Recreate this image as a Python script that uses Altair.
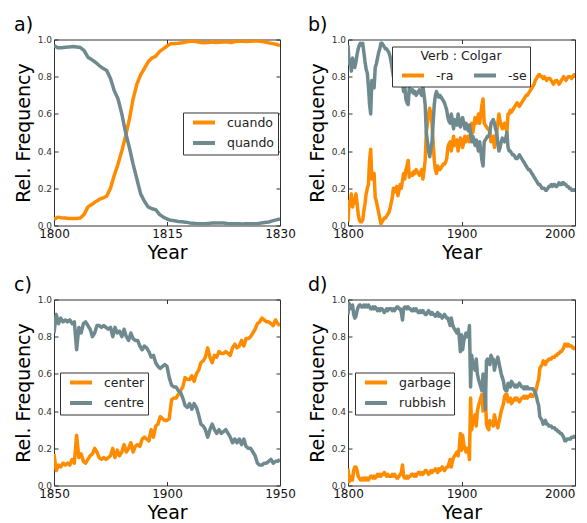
import altair as alt
import pandas as pd

FONT = "DejaVu Sans"
ORANGE = "#FF8C00"
GRAY = "#6F8A8F"

# ---------------- panel a ----------------
years_a = [1800 + 0.5 * i for i in range(61)]
cuando = [0.032, 0.045, 0.042, 0.04, 0.038, 0.037, 0.038, 0.04, 0.06, 0.1,
          0.113, 0.127, 0.14, 0.148, 0.158, 0.2, 0.27, 0.33, 0.4, 0.48,
          0.57, 0.68, 0.76, 0.81, 0.845, 0.88, 0.9, 0.91, 0.935, 0.95,
          0.965, 0.977, 0.978, 0.98, 0.983, 0.987, 0.99, 0.99, 0.988, 0.984,
          0.982, 0.984, 0.986, 0.984, 0.985, 0.987, 0.986, 0.984, 0.989, 0.99,
          0.99, 0.989, 0.99, 0.992, 0.992, 0.99, 0.986, 0.982, 0.978, 0.974,
          0.968]
quando = [0.968, 0.955, 0.956, 0.958, 0.96, 0.962, 0.96, 0.957, 0.94, 0.905,
          0.892, 0.878, 0.86, 0.845, 0.833, 0.79, 0.725, 0.68, 0.6, 0.5,
          0.42, 0.33, 0.25, 0.17, 0.13, 0.1, 0.09, 0.085, 0.06, 0.045,
          0.035, 0.028, 0.025, 0.022, 0.02, 0.018, 0.014, 0.012, 0.01, 0.009,
          0.009, 0.011, 0.013, 0.014, 0.014, 0.013, 0.011, 0.01, 0.009, 0.009,
          0.008, 0.009, 0.009, 0.009, 0.01, 0.013, 0.016, 0.019, 0.025, 0.03,
          0.036]

# ---------------- panel b ----------------
years_b = list(range(1800, 2001))
ra = [0.02, 0.13, 0.11, 0.17, 0.1, 0.14, 0.12, 0.17, 0.12, 0.06,
      0.03, 0.02, 0.02, 0.03, 0.08, 0.12, 0.17, 0.2, 0.22, 0.35,
      0.41, 0.25, 0.27, 0.28, 0.15, 0.13, 0.1, 0.07, 0.04, 0.01,
      0.02, 0.03, 0.04, 0.04, 0.05, 0.06, 0.07, 0.09, 0.12, 0.15,
      0.2, 0.18, 0.2, 0.21, 0.16, 0.19, 0.22, 0.2, 0.24, 0.28,
      0.25, 0.3, 0.32, 0.35, 0.26, 0.27, 0.28, 0.27, 0.29, 0.28,
      0.3, 0.29, 0.28, 0.27, 0.29, 0.3, 0.25, 0.3, 0.35, 0.5,
      0.55, 0.6, 0.63, 0.6, 0.55, 0.45, 0.35, 0.3, 0.28, 0.32,
      0.31, 0.3, 0.31, 0.32, 0.33, 0.33, 0.34, 0.36, 0.42, 0.44,
      0.45, 0.4, 0.44, 0.48, 0.43, 0.45, 0.46, 0.4, 0.44, 0.47,
      0.46, 0.42, 0.45, 0.48, 0.45, 0.47, 0.48, 0.45, 0.5, 0.55,
      0.5, 0.54, 0.58, 0.55, 0.57, 0.6, 0.55, 0.6, 0.65, 0.68,
      0.55, 0.54, 0.53, 0.52, 0.52, 0.5, 0.45, 0.46, 0.48, 0.42,
      0.46, 0.5, 0.55, 0.6, 0.56, 0.54, 0.52, 0.54, 0.55, 0.53,
      0.5, 0.6, 0.6, 0.62, 0.61, 0.62, 0.63, 0.64, 0.65, 0.66,
      0.65, 0.64, 0.65, 0.66, 0.67, 0.68, 0.69, 0.7, 0.7, 0.71,
      0.72, 0.73, 0.74, 0.75, 0.76, 0.78, 0.79, 0.8, 0.81, 0.81,
      0.8, 0.8, 0.79, 0.8, 0.79, 0.78, 0.79, 0.79, 0.79, 0.78,
      0.77, 0.76, 0.77, 0.78, 0.78, 0.77, 0.76, 0.77, 0.78, 0.79,
      0.8, 0.79, 0.78, 0.79, 0.8, 0.8, 0.8, 0.79, 0.8, 0.81,
      0.81]
se = [0.97, 0.87, 0.89, 0.83, 0.9, 0.86, 0.85, 0.88, 0.92, 0.95,
      0.97, 0.98, 0.97, 0.98, 0.93, 0.88, 0.84, 0.82, 0.75, 0.65,
      0.6, 0.78, 0.76, 0.74, 0.85, 0.87, 0.9, 0.93, 0.95, 0.98,
      0.98, 0.97, 0.96, 0.95, 0.95, 0.94, 0.93, 0.91, 0.88, 0.84,
      0.8, 0.82, 0.79, 0.8, 0.84, 0.8, 0.78, 0.8, 0.76, 0.72,
      0.75, 0.68, 0.66, 0.65, 0.74, 0.73, 0.72, 0.73, 0.71, 0.72,
      0.7, 0.71, 0.72, 0.73, 0.71, 0.7, 0.75, 0.7, 0.65, 0.5,
      0.45, 0.4, 0.37, 0.41, 0.45, 0.55, 0.65, 0.7, 0.72, 0.7,
      0.69, 0.7, 0.69, 0.68, 0.67, 0.66, 0.64, 0.62, 0.58, 0.56,
      0.55, 0.6, 0.56, 0.52, 0.57, 0.55, 0.54, 0.6, 0.56, 0.53,
      0.56, 0.58, 0.55, 0.52, 0.55, 0.53, 0.51, 0.54, 0.5, 0.45,
      0.48, 0.46, 0.43, 0.46, 0.43, 0.4, 0.45, 0.4, 0.35, 0.32,
      0.45, 0.46, 0.47, 0.48, 0.48, 0.5, 0.55, 0.56, 0.57, 0.55,
      0.52, 0.5, 0.44, 0.4, 0.42, 0.45, 0.47, 0.46, 0.45, 0.47,
      0.5, 0.42, 0.4, 0.4, 0.39, 0.38, 0.38, 0.37, 0.36, 0.36,
      0.37, 0.38, 0.37, 0.36, 0.35, 0.34, 0.33, 0.32, 0.31, 0.3,
      0.3, 0.29, 0.28, 0.27, 0.26, 0.25, 0.24, 0.23, 0.22, 0.22,
      0.21, 0.2, 0.2, 0.2, 0.19, 0.19, 0.2, 0.21, 0.21, 0.22,
      0.21, 0.22, 0.22, 0.21, 0.21, 0.22, 0.23, 0.22, 0.22, 0.23,
      0.23, 0.22, 0.22, 0.21, 0.21, 0.2, 0.2, 0.19, 0.19, 0.19,
      0.19]

# ---------------- panel c ----------------
years_c = list(range(1850, 1951))
center = [0.17, 0.08, 0.11, 0.1, 0.12, 0.11, 0.12, 0.11, 0.14, 0.12,
          0.27, 0.15, 0.17, 0.13, 0.12, 0.14, 0.16, 0.17, 0.2, 0.18,
          0.15, 0.14, 0.15, 0.14, 0.15, 0.16, 0.2, 0.15, 0.19, 0.16,
          0.18, 0.22, 0.18, 0.2, 0.23, 0.18, 0.21, 0.22, 0.21, 0.25,
          0.26, 0.25, 0.24, 0.3, 0.26, 0.32, 0.33, 0.37, 0.36, 0.35,
          0.35, 0.36, 0.46, 0.47, 0.47, 0.49, 0.51, 0.53, 0.58, 0.57,
          0.57, 0.59, 0.56, 0.6, 0.62, 0.66, 0.67, 0.69, 0.74, 0.69,
          0.66, 0.7, 0.69, 0.72, 0.71, 0.71, 0.72, 0.71, 0.7, 0.74,
          0.76, 0.74, 0.75, 0.78, 0.75, 0.79, 0.79, 0.8, 0.82, 0.84,
          0.87, 0.88, 0.9, 0.89, 0.88, 0.88, 0.87, 0.86, 0.89, 0.87,
          0.86]
centre = [0.82, 0.92, 0.87, 0.9, 0.88, 0.89, 0.88, 0.89, 0.87, 0.88,
          0.73, 0.85, 0.82, 0.87, 0.88, 0.86, 0.84, 0.8, 0.82, 0.86,
          0.86, 0.85, 0.86, 0.85, 0.84, 0.85, 0.8, 0.85, 0.82, 0.83,
          0.8, 0.84, 0.8, 0.78, 0.82, 0.79, 0.78, 0.78, 0.75, 0.73,
          0.75, 0.74, 0.72, 0.69, 0.7, 0.66, 0.64, 0.63, 0.64, 0.65,
          0.64, 0.58, 0.54, 0.53, 0.53, 0.51, 0.5, 0.47, 0.43, 0.42,
          0.44, 0.41, 0.44, 0.42, 0.38, 0.33, 0.32, 0.3, 0.26, 0.3,
          0.33, 0.3, 0.28, 0.3, 0.28, 0.29, 0.3, 0.28, 0.26, 0.23,
          0.25, 0.23, 0.25, 0.22, 0.25, 0.21, 0.2, 0.2, 0.18, 0.16,
          0.12, 0.11, 0.11, 0.12, 0.12, 0.13, 0.14, 0.12, 0.13, 0.13,
          0.14]

# ---------------- panel d ----------------
years_d = list(range(1800, 2001))
garbage = [0.09, 0.02, 0.05, 0.03, 0.03, 0.08, 0.1, 0.1, 0.08, 0.05,
           0.04, 0.03, 0.03, 0.04, 0.03, 0.04, 0.03, 0.04, 0.03, 0.04,
           0.05, 0.05, 0.04, 0.05, 0.04, 0.05, 0.06, 0.05, 0.06, 0.05,
           0.06, 0.06, 0.07, 0.06, 0.05, 0.06, 0.05, 0.05, 0.05, 0.06,
           0.05, 0.06, 0.05, 0.04, 0.04, 0.05, 0.06, 0.07, 0.11, 0.05,
           0.04, 0.04, 0.05, 0.04, 0.05, 0.05, 0.06, 0.06, 0.05, 0.06,
           0.05, 0.06, 0.07, 0.07, 0.06, 0.07, 0.06, 0.07, 0.08, 0.08,
           0.07, 0.06, 0.07, 0.08, 0.07, 0.08, 0.08, 0.09, 0.08, 0.07,
           0.09, 0.08, 0.09, 0.1, 0.09, 0.08, 0.09, 0.1, 0.1, 0.12,
           0.14, 0.1, 0.13, 0.15, 0.16, 0.17, 0.18, 0.16, 0.2, 0.28,
           0.19, 0.27, 0.22, 0.2, 0.18, 0.2, 0.2, 0.14, 0.47, 0.3,
           0.35, 0.36, 0.38, 0.32, 0.4, 0.43, 0.45, 0.47, 0.49, 0.4,
           0.45, 0.5, 0.33, 0.31, 0.3, 0.35, 0.33, 0.34, 0.32, 0.38,
           0.35, 0.33, 0.31, 0.34, 0.37, 0.4, 0.42, 0.44, 0.48, 0.49,
           0.49, 0.45, 0.46, 0.47, 0.44, 0.45, 0.46, 0.47, 0.46, 0.47,
           0.46, 0.45, 0.46, 0.47, 0.47, 0.48, 0.47, 0.48, 0.47, 0.48,
           0.48, 0.49, 0.48, 0.48, 0.49, 0.5, 0.52, 0.55, 0.57, 0.63,
           0.64, 0.65, 0.67, 0.66, 0.65, 0.67, 0.67, 0.68, 0.68, 0.68,
           0.69, 0.69, 0.69, 0.7, 0.7, 0.71, 0.71, 0.72, 0.72, 0.73,
           0.74, 0.76, 0.76, 0.75, 0.76, 0.75, 0.75, 0.75, 0.74, 0.74,
           0.73]
rubbish = [0.92, 0.98, 0.95, 0.96, 0.97, 0.92, 0.9, 0.91, 0.94, 0.96,
           0.97, 0.97, 0.96, 0.96, 0.97, 0.96, 0.97, 0.96, 0.97, 0.96,
           0.95, 0.95, 0.96, 0.95, 0.96, 0.95, 0.94, 0.95, 0.94, 0.95,
           0.95, 0.94, 0.93, 0.94, 0.95, 0.94, 0.95, 0.95, 0.95, 0.94,
           0.95, 0.94, 0.95, 0.96, 0.96, 0.95, 0.95, 0.93, 0.89, 0.95,
           0.96, 0.96, 0.95, 0.96, 0.95, 0.95, 0.94, 0.94, 0.95, 0.94,
           0.95, 0.94, 0.93, 0.93, 0.94, 0.93, 0.94, 0.93, 0.92, 0.92,
           0.93, 0.94, 0.93, 0.92, 0.93, 0.92, 0.92, 0.91, 0.92, 0.93,
           0.91, 0.92, 0.91, 0.9, 0.91, 0.92, 0.91, 0.9, 0.9, 0.88,
           0.86, 0.9, 0.87, 0.85, 0.84, 0.83, 0.82, 0.84, 0.8, 0.72,
           0.81, 0.73, 0.78, 0.8, 0.82, 0.8, 0.8, 0.86, 0.53, 0.7,
           0.65, 0.64, 0.62, 0.68, 0.6, 0.57, 0.55, 0.53, 0.51, 0.6,
           0.55, 0.41, 0.67, 0.68, 0.67, 0.65, 0.7, 0.68, 0.68, 0.62,
           0.65, 0.67, 0.69, 0.66, 0.63, 0.6, 0.58, 0.56, 0.52, 0.51,
           0.51, 0.55, 0.54, 0.53, 0.56, 0.55, 0.54, 0.53, 0.54, 0.53,
           0.54, 0.55, 0.54, 0.53, 0.53, 0.52, 0.53, 0.52, 0.53, 0.52,
           0.52, 0.52, 0.52, 0.52, 0.51, 0.5, 0.48, 0.45, 0.43, 0.37,
           0.36, 0.35, 0.33, 0.34, 0.35, 0.33, 0.33, 0.32, 0.32, 0.32,
           0.31, 0.31, 0.31, 0.3, 0.3, 0.29, 0.29, 0.28, 0.28, 0.27,
           0.26, 0.24, 0.24, 0.25, 0.25, 0.25, 0.25, 0.26, 0.26, 0.26,
           0.27]

Y_TICKS = [0.0, 0.2, 0.4, 0.6, 0.8, 1.0]
PLOT_H = 186
TICK_IN = 4  # inward tick length (matplotlib classic style)


def make_legend(x, y, title=None, columns=None):
    kw = dict(
        orient="none", legendX=x, legendY=y,
        symbolType="M-2.2,0H2.2", symbolSize=100, symbolStrokeWidth=4,
        labelFont=FONT, labelFontSize=12.5, labelColor="#222",
        padding=3, symbolOffset=11, labelOffset=16, rowPadding=4.5,
        strokeColor="#333", fillColor="white",
    )
    if title is None:
        kw["title"] = None
    else:
        kw.update(title=title, titleFont=FONT, titleFontSize=12.5,
                  titleFontWeight="normal", titleColor="#222",
                  titleAnchor="middle", titlePadding=6.5,
                  direction="horizontal", columns=columns, columnPadding=12)
    return alt.Legend(**kw)


def tick_axis(orient, values, labels=False, **kw):
    return alt.Axis(orient=orient, values=values, ticks=True, tickSize=TICK_IN,
                    tickColor="#333", tickWidth=1, offset=-TICK_IN,
                    labels=labels, domain=False, grid=False, **kw)


def panel(label, years, s1, s2, names, xdomain, xticks, width, legend):
    n = len(years)
    df = pd.DataFrame({
        "Year": list(years) + list(years),
        "value": list(s1) + list(s2),
        "series": [names[0]] * n + [names[1]] * n,
    })
    xscale = alt.Scale(domain=xdomain, nice=False, zero=False)
    yscale = alt.Scale(domain=[0, 1], nice=False)
    # the window edge would cut the last label of a right-hand panel
    last = xticks[-1]
    if last == 2000:
        x_align = {"condition": {"test": f"datum.value >= {last}", "value": "right"},
                   "value": "center"}
    else:
        x_align = "center"
    base = alt.Chart(df)
    lines = base.mark_line(strokeWidth=3.5, clip=True, strokeJoin="round").encode(
        x=alt.X("Year:Q", scale=xscale,
                axis=tick_axis("bottom", xticks, labels=True, format="d", title="Year",
                               labelFontSize=12, labelColor="#111", labelFont=FONT,
                               labelBaseline="alphabetic", labelPadding=12,
                               labelFlush=False, labelAlign=x_align,
                               titleFont=FONT, titleFontSize=19, titleFontWeight="normal",
                               titleColor="black", titleBaseline="alphabetic",
                               titleY=33 + TICK_IN, titleX=width / 2)),
        y=alt.Y("value:Q", scale=yscale,
                axis=tick_axis("left", Y_TICKS, labels=True, format=".1f",
                               title="Rel. Frequency",
                               labelFontSize=9, labelColor="#333", labelFont=FONT,
                               labelPadding=2.5, labelFlush=False,
                               titleFont=FONT, titleFontSize=19, titleFontWeight="normal",
                               titleColor="black", titleBaseline="bottom",
                               titleAngle=270, titleX=-21 - TICK_IN, titleY=PLOT_H / 2)),
        color=alt.Color("series:N",
                        scale=alt.Scale(domain=names, range=[ORANGE, GRAY]),
                        sort=names, legend=legend),
    )
    frame_ticks = base.mark_line(opacity=0).encode(
        x=alt.X("Year:Q", scale=xscale, axis=tick_axis("top", xticks, title=None)),
        y=alt.Y("value:Q", scale=yscale, axis=tick_axis("right", Y_TICKS, title=None)),
        detail="series:N",
    )
    return alt.layer(
        lines, frame_ticks,
        title=alt.Title(label, anchor="start", frame="group", dx=-40, offset=-14.5,
                        baseline="alphabetic", font=FONT, fontSize=19,
                        fontWeight="normal", color="black"),
    ).resolve_axis(x="independent", y="independent").properties(
        width=width, height=PLOT_H)


pa = panel("a)", years_a, cuando, quando, ["cuando", "quando"], [1800, 1830],
           [1800, 1815, 1830], 226, make_legend(129, 73))
pb = panel("b)", years_b, ra, se, ["-ra", "-se"], [1800, 2000],
           [1800, 1900, 2000], 227, make_legend(44, 7, title="Verb : Colgar", columns=2))
pc = panel("c)", years_c, center, centre, ["center", "centre"], [1850, 1950],
           [1850, 1900, 1950], 226, make_legend(6, 73))
pd_ = panel("d)", years_d, garbage, rubbish, ["garbage", "rubbish"], [1800, 2000],
            [1800, 1900, 2000], 227, make_legend(7, 73))

chart = alt.concat(
    pa, pb, pc, pd_, columns=2, bounds="flush",
    spacing=alt.RowColnumber(row=74, column=68),
).resolve_scale(
    color="independent", x="independent", y="independent"
).properties(
    padding={"left": 5, "top": 7.5, "right": 0, "bottom": 0},
).configure(
    font=FONT,
).configure_view(
    stroke="#333", strokeWidth=1,
).configure_axis(
    grid=False, domain=False,
)

chart.save("out.html", embed_options={"renderer": "svg", "actions": False})
